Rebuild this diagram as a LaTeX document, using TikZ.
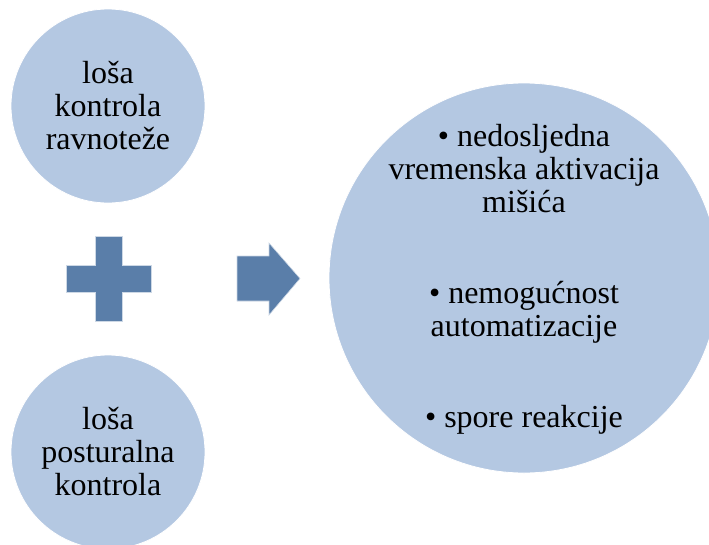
\documentclass[tikz,border=0pt]{standalone}
\usepackage{fontspec}
\setmainfont{Liberation Serif}
\definecolor{lightblue}{HTML}{B4C8E2}
\definecolor{darkblue}{HTML}{5A7EA9}
\begin{document}
\begin{tikzpicture}[x=1pt,y=-1pt,
  bubble/.style={circle,fill=lightblue,draw=white,line width=0.8pt,inner sep=0pt},
  bubbletext/.style={align=center,inner sep=0pt,font=\fontsize{32}{33}\selectfont},
  symbol/.style={fill=darkblue,draw=white!70!darkblue,line width=0.6pt}]
\useasboundingbox (0,0) rectangle (709,544);
\node[bubble,minimum size=194pt] (c1) at (108,106) {};
\node[bubble,minimum size=194pt] (c2) at (108,452) {};
\node[bubble,minimum size=390pt] (c3) at (524,278) {};
\node[bubbletext] (t1) at (c1.center) {loša\\kontrola\\ravnoteže};
\node[bubbletext] (t2) at (c2.center) {loša\\posturalna\\kontrola};
\node[bubbletext] (t3) at (524,279) {• nedosljedna\\vremenska aktivacija\\mišića\\[58pt]• nemogućnost\\automatizacije\\[58pt]• spore reakcije};
% plus
\path[symbol] (95,236) -- (122,236) -- (122,265) -- (151,265) -- (151,292) -- (122,292) -- (122,321) -- (95,321) -- (95,292) -- (66,292) -- (66,265) -- (95,265) -- cycle;
% arrow
\path[symbol] (237,256) -- (269,256) -- (269,243) -- (300,278.5) -- (269,315) -- (269,301) -- (237,301) -- cycle;
\end{tikzpicture}
\end{document}
